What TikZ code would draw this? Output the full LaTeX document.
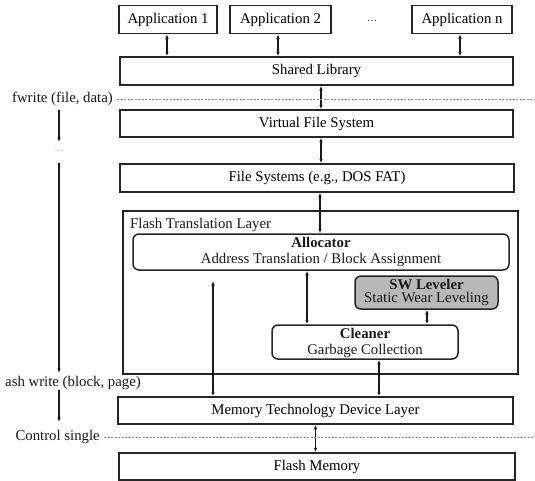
\documentclass[tikz,border=0pt]{standalone}
\usepackage{fontspec}
\setmainfont{Liberation Serif}
\usetikzlibrary{arrows.meta,calc}
\begin{document}
\begin{tikzpicture}[x=1pt,y=-1pt,
  font=\fontsize{14.8}{16}\selectfont,
  box/.style={draw=black!85,line width=1.5pt,inner sep=0pt,align=center},
  rbox/.style={box,rounded corners=6pt},
  arr/.style={{Latex[length=4.5pt,width=3.5pt]}-{Latex[length=4.5pt,width=3.5pt]},line width=1.1pt,black!90},
  darr/.style={-{Latex[length=4.5pt,width=3.5pt]},line width=1.1pt,black!90},
  sep/.style={dashed,dash pattern=on 2pt off 1.5pt,black!45,line width=0.6pt},
  lbl/.style={inner sep=0pt,text=black!90}]
\useasboundingbox (0,0) rectangle (535,480);
% applications
\node[box,minimum width=98pt,minimum height=28pt] (a1) at (168,19.5) {Application 1};
\node[box,minimum width=101pt,minimum height=28pt] (a2) at (280.5,19.5) {Application 2};
\node[lbl] (adots) at (372,21) {\fontsize{10}{12}\selectfont .\kern1pt.\kern1pt.};
\node[box,minimum width=100pt,minimum height=28pt] (an) at (462,19.5) {Application n};
% layers
\node[box,minimum width=393pt,minimum height=28pt] (sl) at (316.5,71) {Shared Library};
\node[box,minimum width=393pt,minimum height=27pt] (vfs) at (316.5,123.5) {Virtual File System};
\node[box,minimum width=394pt,minimum height=28pt] (fs) at (317,178) {File Systems (e.g., DOS FAT)};
\node[box,minimum width=395pt,minimum height=163pt] (ftl) at (320.5,292.5) {};
\node[lbl,anchor=west] (ftllbl) at (130,224.5) {Flash Translation Layer};
\node[rbox,minimum width=376pt,minimum height=36pt] (alloc) at (321,252) {};
\node[lbl] at (321,242) {\bfseries Allocator};
\node[lbl] at (321,260) {Address Translation / Block Assignment};
\node[rbox,fill=black!28,minimum width=143pt,minimum height=33pt] (sw) at (426.5,292.5) {};
\node[lbl] at (426.5,284) {\bfseries SW Leveler};
\node[lbl] at (426.5,299) {Static Wear Leveling};
\node[rbox,minimum width=186pt,minimum height=34pt] (cl) at (365,342) {};
\node[lbl] at (365,333) {\bfseries Cleaner};
\node[lbl] at (365,351) {Garbage Collection};
\node[box,minimum width=395pt,minimum height=27pt] (mtd) at (315.5,410.5) {Memory Technology Device Layer};
\node[box,minimum width=396pt,minimum height=27pt] (fm) at (317,466.5) {Flash Memory};
% connectors
\draw[arr] ([xshift=-1pt]a1.south) -- ([xshift=-1pt]a1.south |- sl.north);
\draw[arr] ([xshift=-2.5pt]a2.south) -- ([xshift=-2.5pt]a2.south |- sl.north);
\draw[arr] ([xshift=-2pt]an.south) -- ([xshift=-2pt]an.south |- sl.north);
\draw[arr] ([xshift=4.5pt]sl.south) -- ([xshift=4.5pt]sl.south |- vfs.north);
\draw[arr] ([xshift=4.5pt]vfs.south) -- ([xshift=4.5pt]vfs.south |- fs.north);
\draw[arr] ([xshift=3pt]fs.south) -- ([xshift=3pt]fs.south |- alloc.north);
\draw[arr] ([xshift=-14pt]alloc.south) -- ([xshift=-14pt]alloc.south |- cl.north);
\draw[arr] ([xshift=0.5pt]sw.south) -- ([xshift=0.5pt]sw.south |- cl.north);
\draw[arr] ([xshift=14pt]cl.south) -- ([xshift=14pt]cl.south |- mtd.north);
\coordinate (free) at (213,281);
\draw[arr] (free) -- (free |- mtd.north);
\draw[arr] (mtd.south) -- (mtd.south |- fm.north);
% left annotations
\node[lbl,anchor=east] (fw) at (113,98.5) {fwrite (file, data)};
\draw[sep] (117,99) -- (535,99);
\coordinate (fwa) at (59,110);
\node[lbl,text=black!60] (ldots) at (59,151) {\fontsize{8}{10}\selectfont .\kern0.8pt.\kern0.8pt.};
\draw[darr] (fwa) -- (59,142);
\coordinate (fa) at (59,163);
\node[lbl,anchor=west] (aw) at (5,383) {ash write (block, page)};
\draw[darr] (fa) -- (59,373);
\coordinate (awb) at (59,390);
\draw[darr] (awb) -- (59,422);
\node[lbl,anchor=east] (cs) at (100,437) {Control single};
\draw[sep] (104,437) -- (535,437);
\end{tikzpicture}
\end{document}
